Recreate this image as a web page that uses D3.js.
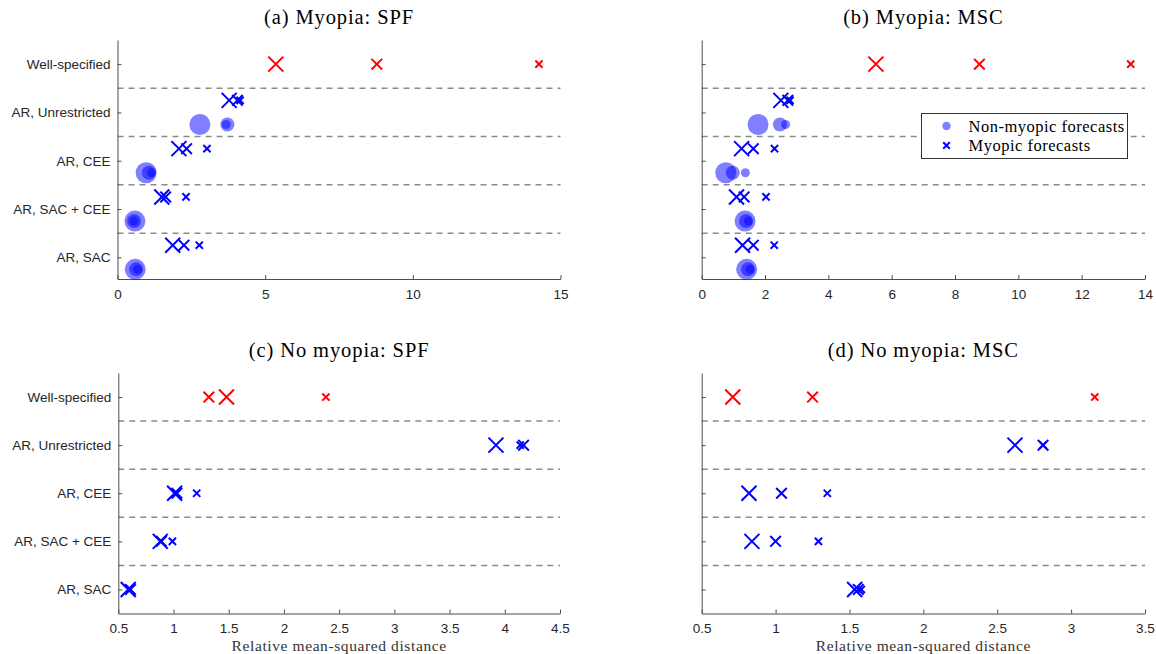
<!DOCTYPE html>
<html><head><meta charset="utf-8">
<script src="https://cdn.jsdelivr.net/npm/d3@7"></script>
<style>body{margin:0;background:#fff}</style>
</head><body>
<svg id="c" width="1156" height="654"></svg>
<script>
// Categories, bottom (1) to top (5)
const categories = ["AR, SAC", "AR, SAC + CEE", "AR, CEE", "AR, Unrestricted", "Well-specified"];

// (a) Myopia: SPF  — myopic forecasts (x markers), sizes large/medium/small
const aMyopicL = [1.87, 1.50, 2.08, 3.78, 5.36];
const aMyopicM = [2.25, 1.63, 2.34, 4.06, 8.78];
const aMyopicS = [2.77, 2.32, 3.03, 4.15, 14.27];
// non-myopic forecasts (circles), AR rows only
const aNonL = [0.60, 0.59, 0.97, 2.79];
const aNonM = [0.63, 0.56, 1.06, 3.72];
const aNonS = [0.68, 0.56, 1.15, 3.68];

// (b) Myopia: MSC
const bMyopicL = [1.29, 1.10, 1.26, 2.50, 5.50];
const bMyopicM = [1.63, 1.34, 1.63, 2.72, 8.77];
const bMyopicS = [2.29, 2.03, 2.30, 2.79, 13.55];
const bNonL = [1.42, 1.37, 0.76, 1.78];
const bNonM = [1.46, 1.40, 0.98, 2.47];
const bNonS = [1.53, 1.47, 1.38, 2.65];

// (c) No myopia: SPF
const cL = [0.59, 0.88, 1.01, 3.92, 1.48];
const cM = [0.61, 0.89, 1.03, 4.17, 1.32];
const cS = [0.60, 0.99, 1.21, 4.14, 2.38];

// (d) No myopia: MSC
const dL = [1.535, 0.84, 0.82, 2.62, 0.71];
const dM = [1.56, 1.00, 1.04, 2.81, 1.25];
const dS = [1.58, 1.29, 1.35, 2.81, 3.16];

const ticksA = [0, 5, 10, 15];
const ticksB = [0, 2, 4, 6, 8, 10, 12, 14];
const ticksC = [0.5, 1, 1.5, 2, 2.5, 3, 3.5, 4, 4.5];
const ticksD = [0.5, 1, 1.5, 2, 2.5, 3, 3.5];

const titles = ["(a) Myopia: SPF", "(b) Myopia: MSC", "(c) No myopia: SPF", "(d) No myopia: MSC"];
const xLabel = "Relative mean-squared distance";
const legendLabels = ["Non-myopic forecasts", "Myopic forecasts"];

const xSize = {L: 7.5, M: 5.3, S: 3.6};
const cRad = {L: 10.5, M: 7, S: 4.5};

const svg = d3.select("#c");
const sans = "'Liberation Sans', Arial, sans-serif";
const serif = "'Liberation Serif', 'Times New Roman', serif";

function xPath(s){ return `M${-s},${-s}L${s},${s}M${-s},${s}L${s},${-s}`; }

const panels = [
  {title: titles[0], xr:[117.5,560.5], yr:[279,40], xdom:[0,15], ydom:[0.55,5.5], ticks: ticksA, fmt: d3.format("d"), ylab:true, myo:true,
   X:{L:aMyopicL,M:aMyopicM,S:aMyopicS}, C:{L:aNonL,M:aNonM,S:aNonS}},
  {title: titles[1], xr:[701.7,1145], yr:[279,40], xdom:[0,14], ydom:[0.55,5.5], ticks: ticksB, fmt: d3.format("d"), ylab:false, myo:true, legend:true,
   X:{L:bMyopicL,M:bMyopicM,S:bMyopicS}, C:{L:bNonL,M:bNonM,S:bNonS}},
  {title: titles[2], xr:[118.3,560], yr:[613.5,373], xdom:[0.5,4.5], ydom:[0.5,5.5], ticks: ticksC, fmt: d => String(d), ylab:true, myo:false, xlab:true,
   X:{L:cL,M:cM,S:cS}},
  {title: titles[3], xr:[701.7,1145], yr:[613.5,373], xdom:[0.5,3.5], ydom:[0.5,5.5], ticks: ticksD, fmt: d => String(d), ylab:false, myo:false, xlab:true,
   X:{L:dL,M:dM,S:dS}}
];

panels.forEach(p => {
  const x = d3.scaleLinear().domain(p.xdom).range(p.xr);
  const y = d3.scaleLinear().domain(p.ydom).range(p.yr);
  const g = svg.append("g");
  const cx = (p.xr[0]+p.xr[1])/2;

  // dashed separators
  [1.5, 2.5, 3.5, 4.5].forEach(v => {
    g.append("line").attr("x1", p.xr[0]).attr("x2", p.xr[1]).attr("y1", y(v)).attr("y2", y(v))
      .attr("stroke", "#8a8a8a").attr("stroke-width", 1.5).attr("stroke-dasharray", "6,5");
  });

  // axes
  const xAxis = d3.axisBottom(x).tickValues(p.ticks).tickFormat(p.fmt).tickSizeInner(-4).tickSizeOuter(0).tickPadding(10);
  const gx = g.append("g").attr("transform", `translate(0,${p.yr[0]})`).call(xAxis);
  const yAxis = d3.axisLeft(y).tickValues([1,2,3,4,5]).tickFormat((d,i) => p.ylab ? categories[i] : "").tickSizeInner(-4).tickSizeOuter(0).tickPadding(7);
  const gy = g.append("g").attr("transform", `translate(${p.xr[0]},0)`).call(yAxis);
  [gx, gy].forEach(a => {
    a.select(".domain").attr("stroke", "#4d4d4d").attr("stroke-width", 1);
    a.selectAll(".tick line").attr("stroke", "#4d4d4d");
    a.selectAll(".tick text").attr("font-family", sans).attr("font-size", 13.5).attr("fill", "#262626");
  });

  // title
  g.append("text").attr("x", cx).attr("y", p.yr[1] - 16).attr("text-anchor", "middle")
    .attr("font-family", serif).attr("font-size", 20.5).attr("letter-spacing", 0.9).attr("fill", "#000").text(p.title);
  if (p.xlab) {
    g.append("text").attr("x", cx).attr("y", p.yr[0] + 37).attr("text-anchor", "middle")
      .attr("font-family", serif).attr("font-size", 15.5).attr("letter-spacing", 0.6).attr("fill", "#333").text(xLabel);
  }

  const offX = p.myo ? 0.25 : 0;
  // circles (non-myopic)
  if (p.C) {
    ["L","M","S"].forEach(k => {
      g.selectAll(null).data(p.C[k]).enter().append("circle")
        .attr("cx", d => x(d)).attr("cy", (d,i) => y(i+1-0.25)).attr("r", cRad[k])
        .attr("fill", "#0000ff").attr("fill-opacity", 0.5);
    });
  }
  // x markers (myopic)
  ["L","M","S"].forEach(k => {
    g.selectAll(null).data(p.X[k]).enter().append("path")
      .attr("transform", (d,i) => `translate(${x(d)},${y(i+1 + (i===4 ? 0 : offX))})`)
      .attr("d", xPath(xSize[k]))
      .attr("fill", "none").attr("stroke", (d,i) => i===4 ? "#ff0000" : "#0000ff").attr("stroke-width", 2);
  });

  if (p.legend) {
    const lg = g.append("g").attr("transform", "translate(921.5,113.5)");
    lg.append("rect").attr("width", 206).attr("height", 45).attr("fill", "#fff").attr("stroke", "#333").attr("stroke-width", 1);
    lg.append("circle").attr("cx", 25).attr("cy", 12.5).attr("r", 4.2).attr("fill", "#0000ff").attr("fill-opacity", 0.5);
    lg.append("path").attr("transform", "translate(25,32)").attr("d", xPath(3.3)).attr("stroke", "#0000ff").attr("stroke-width", 2);
    lg.selectAll(null).data(legendLabels).enter().append("text")
      .attr("x", 47).attr("y", (d,i) => 12.5 + i*19.5).attr("dy", "0.35em")
      .attr("font-family", serif).attr("font-size", 16.5).attr("letter-spacing", 0.5).attr("fill", "#000").text(d => d);
  }
});
</script>
</body></html>
